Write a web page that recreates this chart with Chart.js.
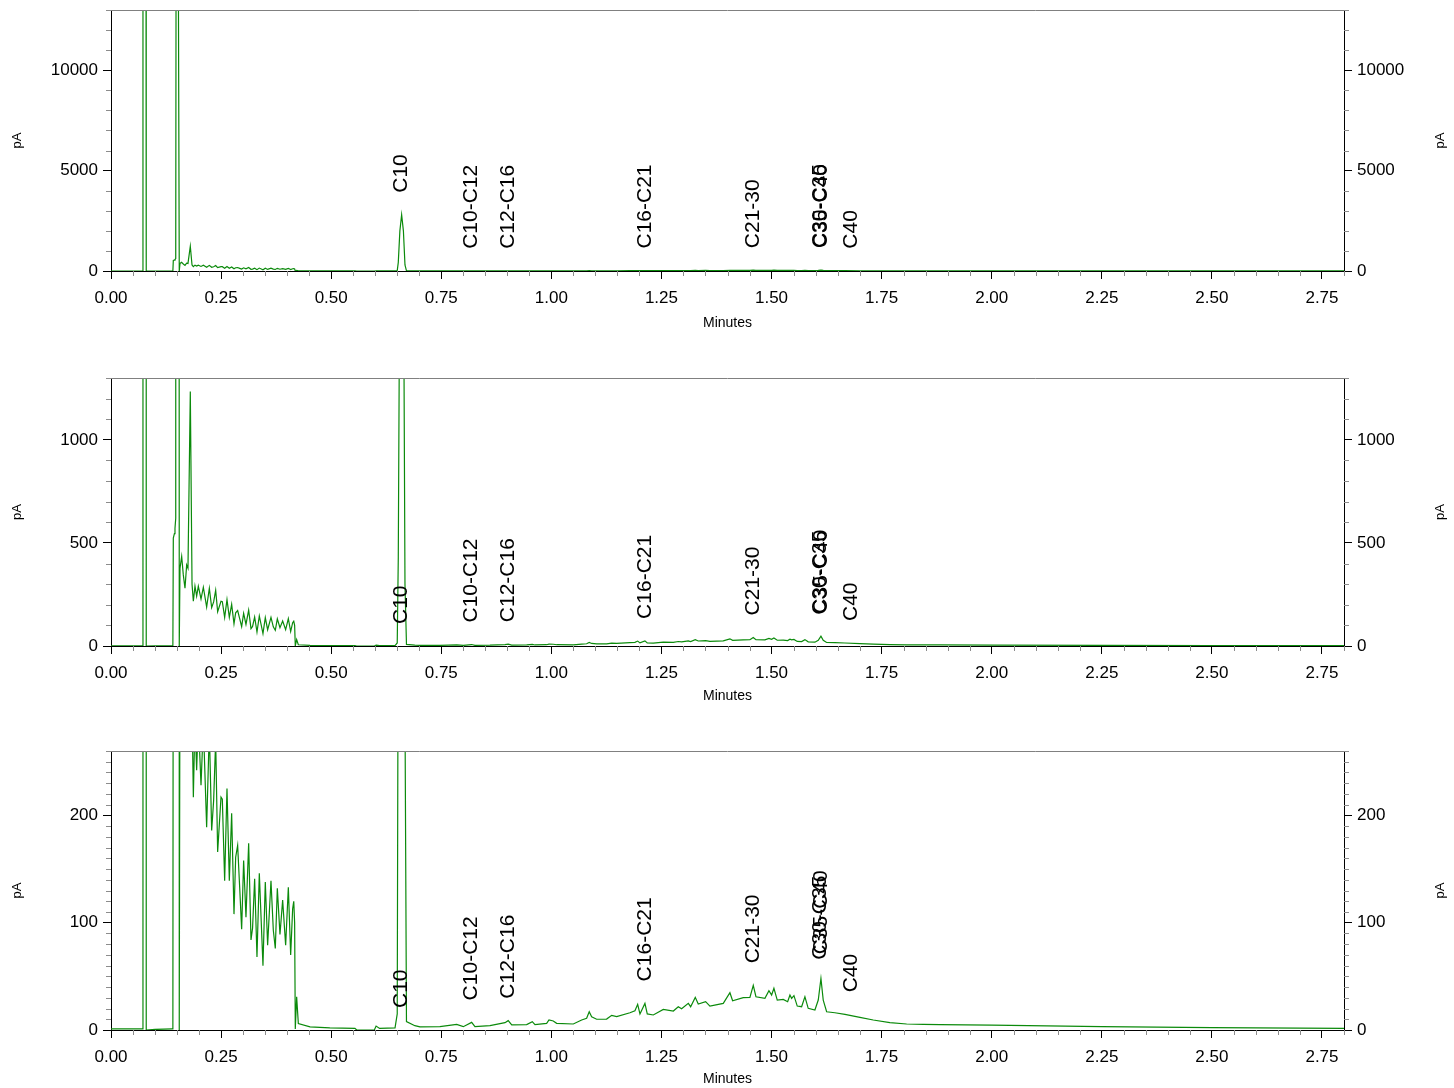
<!DOCTYPE html>
<html>
<head>
<meta charset="utf-8">
<script src="https://cdn.jsdelivr.net/npm/chart.js@4.4.1/dist/chart.umd.min.js"></script>
<style>
  html, body { margin: 0; padding: 0; background: #fff; overflow: hidden; }
  .panel { position: absolute; left: 0; width: 1454px; }
</style>
</head>
<body>
<div class="panel" style="top:0px"><canvas id="panel1" width="1454" height="332"></canvas></div>
<div class="panel" style="top:368px"><canvas id="panel2" width="1454" height="337"></canvas></div>
<div class="panel" style="top:741px"><canvas id="panel3" width="1454" height="347"></canvas></div>
<script>
// chromatogram trace, retention time (min) / signal (pA)
const retentionTimes = [
  0.000, 0.060, 0.0721, 0.0726, 0.0795, 0.0800, 0.100, 0.139, 0.1405, 0.1415,
  0.1440, 0.1453, 0.1470, 0.1478, 0.1528, 0.1550, 0.1567, 0.1605, 0.1642, 0.1680,
  0.1718, 0.1748, 0.1801, 0.1840, 0.1870, 0.1907, 0.1945, 0.1983, 0.2044, 0.2097,
  0.2172, 0.2233, 0.2286, 0.2331, 0.2377, 0.2422, 0.2498, 0.2528, 0.2581, 0.2634,
  0.2687, 0.2740, 0.2793, 0.2831, 0.2876, 0.2922, 0.2967, 0.3012, 0.3065, 0.3126,
  0.3179, 0.3215, 0.3262, 0.3315, 0.3368, 0.3451, 0.3504, 0.3557, 0.3633, 0.3686,
  0.3731, 0.3777, 0.3837, 0.3898, 0.3966, 0.4027, 0.4080, 0.4125, 0.4150, 0.4170,
  0.4185, 0.4216, 0.4254, 0.452, 0.497, 0.554, 0.558, 0.598, 0.602, 0.610,
  0.645, 0.650, 0.6524, 0.656, 0.660, 0.664, 0.6676, 0.671, 0.690, 0.7016,
  0.747, 0.785, 0.800, 0.819, 0.8265, 0.8606, 0.8947, 0.902, 0.910, 0.944,
  0.9567, 0.9628, 0.9893, 0.9946, 1.0044, 1.012, 1.0498, 1.0688, 1.0801, 1.086,
  1.0915, 1.1029, 1.1255, 1.137, 1.1483, 1.1785, 1.1898, 1.196, 1.2012, 1.2125,
  1.2178, 1.2315, 1.2542, 1.277, 1.2882, 1.2958, 1.311, 1.3163, 1.3268, 1.3336,
  1.3503, 1.3601, 1.3904, 1.4055, 1.4116, 1.4358, 1.4509, 1.4585, 1.4646, 1.485,
  1.4941, 1.5002, 1.5054, 1.513, 1.5266, 1.5366, 1.5418, 1.5456, 1.5509, 1.5584,
  1.5683, 1.5758, 1.5833, 1.5985, 1.6061, 1.6122, 1.6174, 1.6251, 1.6439, 1.6667,
  1.7007, 1.731, 1.7688, 1.8068, 1.8445, 1.8824, 2.000, 2.250, 2.500, 2.800
];
const signalPA = [
  1, 1, 1, 16000, 16000, 0, 0.5, 1, 2, 523,
  545, 571, 620, 16000, 16000, 0, 377, 434, 345, 280,
  393, 377, 1234, 300, 217, 290, 242, 290, 228, 285,
  189, 280, 186, 214, 270, 166, 217, 215, 139, 225,
  139, 202, 108, 161, 172, 133, 94, 158, 105, 174,
  84, 95, 141, 68, 146, 60, 138, 79, 139, 93,
  76, 132, 89, 121, 79, 133, 70, 113, 120, 100,
  1, 31, 6, 3, 2, 1.5, 0, 0, 3.7, 1.5,
  2, 15, 430, 2000, 2800, 2000, 300, 7.8, 4, 3,
  3.1, 5.3, 3.1, 7.1, 3.1, 4, 6.8, 8.7, 4.7, 5,
  7.8, 5, 6.2, 9.3, 8.4, 6.2, 5.6, 9.3, 10.9, 17,
  12.4, 10, 10.2, 13.7, 12.4, 16.1, 18, 23.9, 15, 24.8,
  15, 14, 19.2, 17.7, 21.7, 19.8, 24.8, 21.7, 30.4, 24.2,
  26.4, 22.3, 24.8, 34.7, 27.3, 30.1, 30.4, 41.6, 31, 29.5,
  36.6, 32.6, 38.8, 27.9, 28.5, 26.4, 32.6, 29.5, 32, 22.3,
  21.7, 31, 20.2, 18.6, 27.9, 48, 27.9, 17, 16.1, 14.6,
  11.8, 9.3, 6.8, 5.6, 5.3, 5, 4.5, 3.2, 2.3, 1.5
];

// peak annotations
const peakNames = ['C10', 'C10-C12', 'C12-C16', 'C16-C21', 'C21-30', 'C30-C35', 'C35-C40', 'C40'];
const peakTimes = [0.660, 0.819, 0.902, 1.2125, 1.4585, 1.611, 1.612, 1.680];
const peakHeights = [2800, 7.1, 8.7, 24.8, 41.6, 45, 50, 14.6];

// axes
const xTickValues = [0, 0.25, 0.5, 0.75, 1.0, 1.25, 1.5, 1.75, 2.0, 2.25, 2.5, 2.75];
const yTicksPanel1 = [0, 5000, 10000];
const yTicksPanel2 = [0, 500, 1000];
const yTicksPanel3 = [0, 100, 200];
const yMaxes = [13000, 1300, 260];
const yMinorSteps = [1000, 100, 10];

const FONT = "'Liberation Sans', Arial, sans-serif";
const GREEN = '#0b8a0b';

Chart.defaults.color = '#000';
Chart.defaults.font.family = FONT;

const extras = {
  id: 'extras',
  afterDatasetsDraw(chart, args, opts) {
    const {ctx, scales} = chart;
    const x = scales.x, y = scales.y;
    ctx.save();
    ctx.fillStyle = '#000';
    ctx.font = '21px ' + FONT;
    ctx.textAlign = 'left';
    ctx.textBaseline = 'middle';
    peakNames.forEach((name, i) => {
      // off-scale peaks get their label down at the baseline
      let h = peakHeights[i] > y.max ? 0 : peakHeights[i];
      ctx.save();
      ctx.translate(x.getPixelForValue(peakTimes[i]), y.getPixelForValue(h) - 22);
      ctx.rotate(-Math.PI / 2);
      ctx.fillText(name, 0, 0);
      ctx.restore();
    });
    ctx.restore();
  },
  afterDraw(chart, args, opts) {
    const {ctx, chartArea: a, scales} = chart;
    ctx.save();
    // top frame line
    ctx.strokeStyle = '#808080';
    ctx.lineWidth = 1;
    ctx.beginPath();
    ctx.moveTo(a.left, a.top + 0.5);
    ctx.lineTo(a.right, a.top + 0.5);
    ctx.stroke();

    // minor ticks
    ctx.strokeStyle = '#8c8c8c';
    ctx.beginPath();
    for (let k = 0; k * 0.05 <= scales.x.max + 1e-9; k++) {
      if (k % 5 == 0) continue;
      let px = Math.round(scales.x.getPixelForValue(k * 0.05)) + 0.5;
      ctx.moveTo(px, a.bottom);
      ctx.lineTo(px, a.bottom + 5);
    }
    let step = opts.minorStep;
    let every = step == 10 ? 10 : 5;
    for (let k = 0; k * step <= scales.y.max + 1e-9; k++) {
      if (k % every == 0) continue;
      let py = Math.round(scales.y.getPixelForValue(k * step)) + 0.5;
      ctx.moveTo(a.left - 5, py);
      ctx.lineTo(a.left, py);
      ctx.moveTo(a.right, py);
      ctx.lineTo(a.right + 5, py);
    }
    ctx.stroke();

    // right axis title
    ctx.fillStyle = '#000';
    ctx.font = '13px ' + FONT;
    ctx.textAlign = 'center';
    ctx.textBaseline = 'middle';
    ctx.translate(1440, (a.top + a.bottom) / 2);
    ctx.rotate(-Math.PI / 2);
    ctx.fillText('pA', 0, 0);
    ctx.restore();
  }
};

function makePanel(id, yTicks, yMax, minorStep, xAxisHeight) {
  const points = retentionTimes.map((t, i) => ({x: t, y: signalPA[i]}));
  const yAxis = (pos) => ({
    type: 'linear',
    position: pos,
    min: 0,
    max: yMax,
    afterBuildTicks: (s) => { s.ticks = yTicks.map(v => ({value: v})); },
    afterFit: (s) => {
      s.width = pos == 'left' ? 111 : 110;
      s.paddingTop = 0;
      s.paddingBottom = 0;
    },
    grid: { drawOnChartArea: false, tickLength: 8, tickColor: '#000', tickWidth: 1 },
    border: { color: '#000', width: 1 },
    ticks: { font: { size: 17 }, padding: 5, callback: (v) => String(v) },
    title: { display: pos == 'left', text: 'pA', font: { size: 13 }, padding: { top: 10, bottom: 0 } }
  });

  new Chart(document.getElementById(id), {
    type: 'line',
    data: {
      datasets: [{
        data: points,
        borderColor: GREEN,
        borderWidth: 1.2,
        pointRadius: 0,
        tension: 0,
        yAxisID: 'y'
      }]
    },
    options: {
      responsive: false,
      animation: false,
      layout: { padding: { top: 10, left: 0, right: 0, bottom: 0 } },
      plugins: {
        legend: { display: false },
        tooltip: { enabled: false },
        extras: { minorStep: minorStep }
      },
      scales: {
        x: {
          type: 'linear',
          min: 0,
          max: 2.8,
          afterBuildTicks: (s) => { s.ticks = xTickValues.map(v => ({value: v})); },
          afterFit: (s) => { s.height = xAxisHeight; },
          grid: { drawOnChartArea: false, tickLength: 8, tickColor: '#000', tickWidth: 1 },
          border: { color: '#000', width: 1 },
          ticks: { font: { size: 17 }, padding: 9, maxRotation: 0, autoSkip: false, callback: (v) => v.toFixed(2) },
          title: { display: true, text: 'Minutes', font: { size: 14 }, padding: 0 }
        },
        y: yAxis('left'),
        y2: yAxis('right')
      }
    },
    plugins: [extras]
  });
}

makePanel('panel1', yTicksPanel1, yMaxes[0], yMinorSteps[0], 61);
makePanel('panel2', yTicksPanel2, yMaxes[1], yMinorSteps[1], 59);
makePanel('panel3', yTicksPanel3, yMaxes[2], yMinorSteps[2], 58);
</script>
</body>
</html>
